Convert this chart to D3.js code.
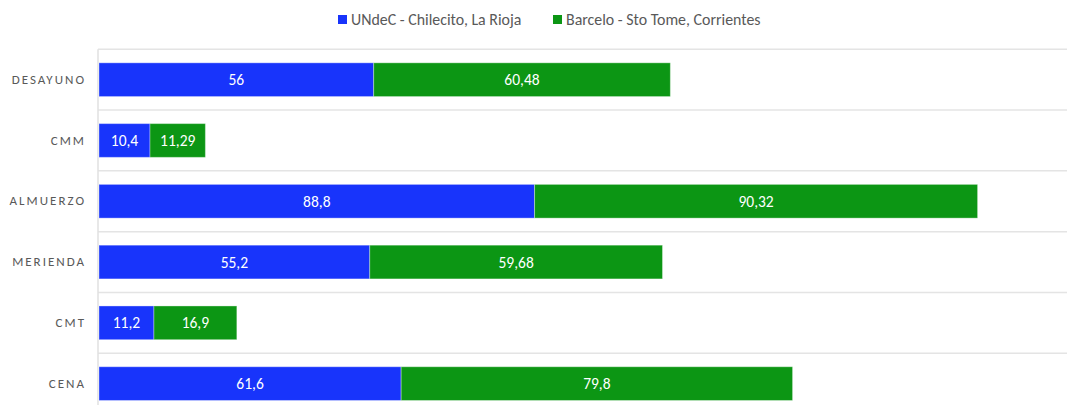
<!DOCTYPE html>
<html><head><meta charset="utf-8">
<script src="https://cdn.jsdelivr.net/npm/d3@7"></script>
<style>body{margin:0;background:#fff;}svg{display:block;}</style>
</head><body>
<svg id="chart" width="1067" height="405"></svg>
<script>
const categories = ["DESAYUNO","CMM","ALMUERZO","MERIENDA","CMT","CENA"];
const seriesNames = ["UNdeC - Chilecito, La Rioja","Barcelo - Sto Tome, Corrientes"];
const undecValues = [56, 10.4, 88.8, 55.2, 11.2, 61.6];
const barceloValues = [60.48, 11.29, 90.32, 59.68, 16.9, 79.8];
const colors = ["#1834fb", "#0c9614"];
const xDomain = [0, 200];

const svg = d3.select("#chart");
const font = "Carlito, Calibri, Lato, 'Liberation Sans', sans-serif";

const x = d3.scaleLinear().domain(xDomain).range([99, 1080]);
const y = d3.scaleBand().domain(categories).range([49.3, 414]).paddingInner(0.445).paddingOuter(0.2225);

const data = categories.map((c, i) => ({cat: c, a: undecValues[i], b: barceloValues[i]}));
const stack = d3.stack().keys(["a","b"])(data);

// gridlines at band boundaries
const step = y.step();
const gridY = d3.range(categories.length + 1).map(i => y.range()[0] + i * step);
svg.append("g").selectAll("line").data(gridY).join("line")
  .attr("x1", 98).attr("x2", 1067).attr("y1", d => d).attr("y2", d => d)
  .attr("stroke", "#e4e4e4").attr("stroke-width", 1.5);
// vertical axis line
svg.append("line").attr("x1", 98).attr("x2", 98).attr("y1", 49.3).attr("y2", 405)
  .attr("stroke", "#e0e0e0").attr("stroke-width", 1.5);

// bars
const fmt = v => String(v).replace(".", ",");
const keys = ["a", "b"];
stack.forEach((layer, li) => {
  const g = svg.append("g");
  g.selectAll("rect").data(layer).join("rect")
    .attr("x", d => x(d[0])).attr("width", d => x(d[1]) - x(d[0]))
    .attr("y", d => y(d.data.cat)).attr("height", y.bandwidth())
    .attr("fill", colors[li]).attr("stroke", "rgba(255,255,255,0.35)").attr("stroke-width", 1);
  g.selectAll("text").data(layer).join("text")
    .attr("x", d => (x(d[0]) + x(d[1])) / 2)
    .attr("y", d => y(d.data.cat) + y.bandwidth() / 2)
    .attr("dy", "0.36em").attr("text-anchor", "middle")
    .attr("fill", "#ffffff").attr("font-family", font).attr("font-size", 15.5)
    .text(d => fmt(d.data[keys[li]]));
});

// category labels
const yAxis = d3.axisLeft(y).tickSize(0).tickPadding(12);
const ya = svg.append("g").attr("transform", "translate(98,0)").call(yAxis);
ya.select(".domain").remove();
ya.selectAll("text").attr("font-family", font).attr("font-size", 13)
  .attr("fill", "#595959").attr("letter-spacing", "2px");

// legend
const legendItems = [
  {name: seriesNames[0], color: colors[0], x: 338},
  {name: seriesNames[1], color: colors[1], x: 553}
];
const lg = svg.append("g");
legendItems.forEach(it => {
  lg.append("rect").attr("x", it.x).attr("y", 15).attr("width", 9).attr("height", 9).attr("fill", it.color);
  lg.append("text").attr("x", it.x + 13).attr("y", 19.5).attr("dy", "0.36em")
    .attr("font-family", font).attr("font-size", 15.9).attr("fill", "#595959").text(it.name);
});
</script>
</body></html>
